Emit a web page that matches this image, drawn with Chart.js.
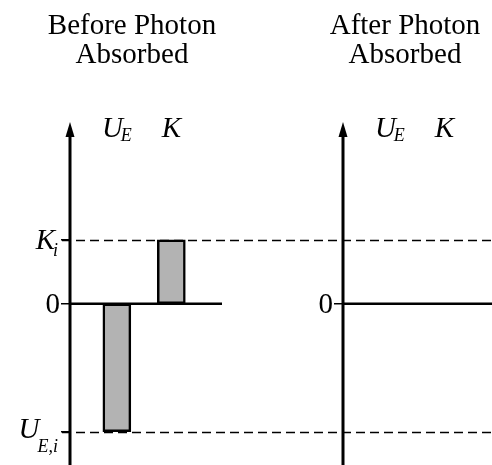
<!DOCTYPE html>
<html lang="en">
<head>
<meta charset="UTF-8">
<title>Before / After Photon Absorbed</title>
<script src="https://cdn.jsdelivr.net/npm/chart.js"></script>
<style>
  html, body { margin: 0; padding: 0; background: #fff; }
  .wrap { display: flex; width: 492px; height: 465px; }
  .panel { position: relative; width: 246px; height: 465px; }
</style>
</head>
<body>
<div class="wrap">
  <div class="panel"><canvas id="before"></canvas></div>
  <div class="panel"><canvas id="after"></canvas></div>
</div>
<script>
// bar categories (main letter + subscript)
const catMain = ['U', 'K'];
const catSub = ['E', ''];
// energies in units of K_i
const beforeValues = [-2, 1];
const afterValues = [0, 0];
// y tick labels
const tickValues = [1, 0, -2];
const tickMain = ['K', '0', 'U'];
const tickSub = ['i', '', 'E,i'];
const beforeTitle = ['Before Photon', 'Absorbed'];
const afterTitle = ['After Photon', 'Absorbed'];

const SERIF = '"Liberation Serif", "Times New Roman", serif';

// draws "main" with an italic subscript, aligned on x
function drawSub(ctx, main, sub, x, y, align, italic, drop) {
  const mFont = (italic ? 'italic ' : '') + '29px ' + SERIF;
  const sFont = 'italic 18px ' + SERIF;
  ctx.font = mFont;
  const mw = ctx.measureText(main).width;
  ctx.font = sFont;
  const sw = sub ? ctx.measureText(sub).width : 0;
  const total = mw + sw - (sub ? 2 : 0);
  let x0 = x;
  if (align === 'right') x0 = x - total;
  if (align === 'center') x0 = x - total / 2;
  ctx.textAlign = 'left';
  ctx.textBaseline = 'alphabetic';
  ctx.fillStyle = '#000';
  ctx.font = mFont;
  ctx.fillText(main, x0, y);
  if (sub) {
    ctx.font = sFont;
    ctx.fillText(sub, x0 + mw - 2, y + drop);
  }
}

function diagram(opts) {
  return {
    id: 'diagram',
    beforeDatasetsDraw(chart) {
      const ctx = chart.ctx, ys = chart.scales.y;
      const axisX = chart.chartArea.left;
      ctx.save();
      ctx.strokeStyle = '#000';
      ctx.lineWidth = 1.3;
      ctx.setLineDash([9, 5]);
      const start = opts.dashFromAxis ? axisX - 8 : 0;
      ctx.lineDashOffset = opts.offsetX + start - 62;
      [beforeValues[1], beforeValues[0]].forEach(v => {
        const py = Math.round(ys.getPixelForValue(v)) + 0.5;
        ctx.beginPath();
        ctx.moveTo(start, py);
        ctx.lineTo(chart.width, py);
        ctx.stroke();
      });
      ctx.restore();
    },
    afterDatasetsDraw(chart) {
      const ctx = chart.ctx, ys = chart.scales.y, xs = chart.scales.x;
      const area = chart.chartArea;
      const axisX = area.left;
      const zeroY = ys.getPixelForValue(0);
      ctx.save();
      ctx.strokeStyle = '#000';
      ctx.fillStyle = '#000';
      // zero line
      ctx.lineWidth = 2.5;
      ctx.beginPath();
      ctx.moveTo(axisX, zeroY);
      ctx.lineTo(area.right, zeroY);
      ctx.stroke();
      // vertical axis with arrow
      ctx.lineWidth = 3;
      ctx.beginPath();
      ctx.moveTo(axisX, chart.height);
      ctx.lineTo(axisX, area.top + 10);
      ctx.stroke();
      ctx.beginPath();
      ctx.moveTo(axisX, area.top);
      ctx.lineTo(axisX - 4.5, area.top + 15);
      ctx.lineTo(axisX + 4.5, area.top + 15);
      ctx.closePath();
      ctx.fill();
      // ticks + labels
      ctx.lineWidth = 1.5;
      tickValues.forEach((v, i) => {
        if (opts.zeroOnly && v !== 0) return;
        const py = ys.getPixelForValue(v);
        ctx.beginPath();
        ctx.moveTo(axisX - 9, py);
        ctx.lineTo(axisX, py);
        ctx.stroke();
        const isZero = tickMain[i] === '0';
        drawSub(ctx, tickMain[i], tickSub[i], axisX - (isZero ? 10 : 12),
          py + (v < 0 ? 6 : 9), 'right', !isZero, v < 0 ? 14 : 7);
      });
      // category labels
      catMain.forEach((m, i) => {
        drawSub(ctx, m, catSub[i], xs.getPixelForValue(i + 1), 137, 'center', true, 4);
      });
      // title
      ctx.font = '29px ' + SERIF;
      ctx.textAlign = 'center';
      ctx.textBaseline = 'alphabetic';
      opts.title.forEach((t, i) => ctx.fillText(t, opts.titleX, 34 + i * 29));
      ctx.restore();
    }
  };
}

function makeChart(id, values, opts) {
  return new Chart(document.getElementById(id), {
    type: 'bar',
    data: {
      datasets: [{
        data: values.map((v, i) => ({ x: i + 1, y: v })),
        backgroundColor: '#b3b3b3',
        borderColor: '#000',
        borderWidth: 2.5,
        borderSkipped: false,
        barThickness: 28
      }]
    },
    options: {
      responsive: true,
      maintainAspectRatio: false,
      animation: false,
      layout: { padding: opts.padding },
      plugins: { legend: { display: false }, tooltip: { enabled: false } },
      scales: {
        x: { type: 'linear', display: false, offset: false, min: 0.14, max: opts.xMax },
        y: { display: false, min: -2.52, max: 2.84 }
      }
    },
    plugins: [diagram(opts)]
  });
}

makeChart('before', beforeValues, {
  padding: { left: 70, right: 24, top: 122, bottom: 0 },
  xMax: 2.93, title: beforeTitle, titleX: 132, offsetX: 0, dashFromAxis: true
});
makeChart('after', afterValues, {
  padding: { left: 97, right: 0, top: 122, bottom: 0 },
  xMax: 2.874, title: afterTitle, titleX: 159, offsetX: 246, zeroOnly: true
});
</script>
</body>
</html>
